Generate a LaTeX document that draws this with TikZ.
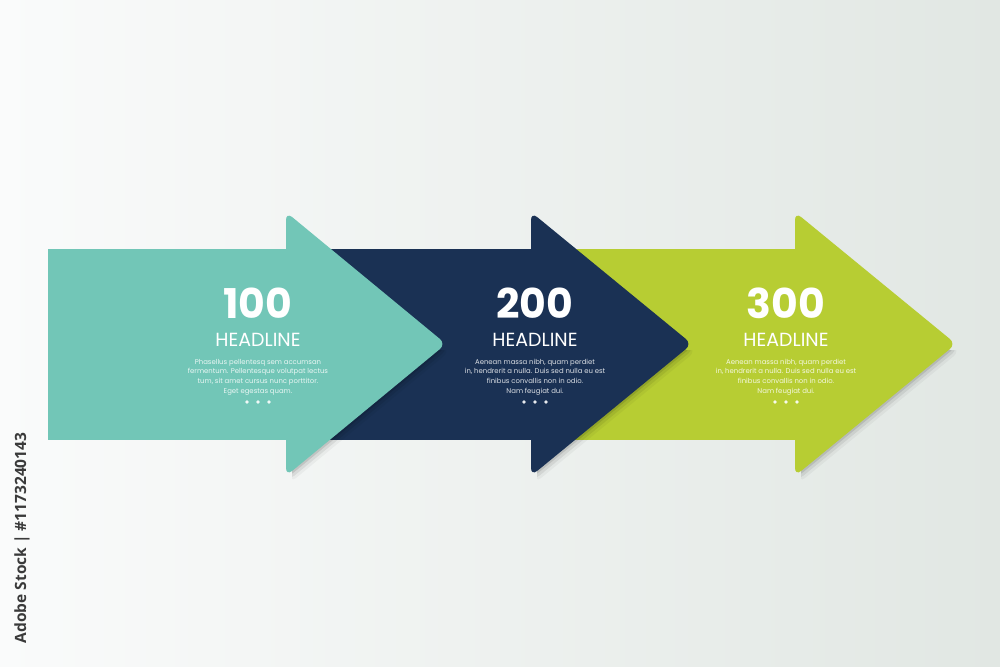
\documentclass[tikz,border=0pt]{standalone}
\usepackage{fontspec}
\setmainfont{Poppins}
\newfontfamily\wmfont{Open Sans}
\definecolor{tealc}{HTML}{72C6B7}
\definecolor{navyc}{HTML}{1A3154}
\definecolor{limec}{HTML}{B7CD33}
\definecolor{bgl}{HTML}{FAFBFB}
\definecolor{bgr}{HTML}{E1E7E3}
\definecolor{wmc}{HTML}{3A3A3A}
\tikzset{
  numtxt/.style={text=white,font=\fontsize{41}{43}\selectfont\bfseries,inner sep=0pt},
  headtxt/.style={text=white,font=\fontsize{19}{21}\selectfont,inner sep=0pt},
  bodytxt/.style={text=white,text opacity=0.85,font=\fontsize{6.9}{9.7}\selectfont,align=center,inner sep=0pt},
  dotc/.style={fill=white,opacity=0.9},
}
\newcommand\bigarrow[4]{%
  % #1 colour, #2 body left, #3 head base, #4 tip
  \begin{scope}
    \clip (#3+6,350) rectangle (#4+20,500);
    \fill[black,opacity=0.04,rounded corners=8pt,shift={(4,7)}] (#3,212) -- (#4,344) -- (#3,476) -- cycle;
    \fill[black,opacity=0.07,rounded corners=8pt,shift={(2.5,4.5)}] (#3,212) -- (#4,344) -- (#3,476) -- cycle;
    \fill[black,opacity=0.10,rounded corners=8pt,shift={(1,2)}] (#3,212) -- (#4,344) -- (#3,476) -- cycle;
  \end{scope}
  \fill[#1] (#2,249) rectangle (#3+6,440);
  \fill[#1,rounded corners=8pt] (#3,212) -- (#4,344) -- (#3,476) -- cycle;
}
\newcommand\threedots[1]{%
  \fill[dotc] (#1-11,402) circle (1.8);
  \fill[dotc] (#1,402) circle (1.8);
  \fill[dotc] (#1+11,402) circle (1.8);
}
\begin{document}
\begin{tikzpicture}[x=1pt,y=-1pt]
\useasboundingbox (0,0) rectangle (1000,666);
\shade[left color=bgl,right color=bgr] (0,0) rectangle (1000,666);

% arrows, back to front
\bigarrow{limec}{560}{795}{956}
\bigarrow{navyc}{300}{531}{692}
\bigarrow{tealc}{48}{286}{446}

% texts
\node[numtxt]  (n1) at (258,303) {100};
\node[headtxt] (h1) at (258,340) {HEADLINE};
\node[bodytxt] (b1) at (258,377) {Phasellus pellentesq sem accumsan\\fermentum. Pellentesque volutpat lectus\\tum, sit amet cursus nunc porttitor.\\Eget egestas quam.};
\threedots{258}

\node[numtxt]  (n2) at (535,303) {200};
\node[headtxt] (h2) at (535,340) {HEADLINE};
\node[bodytxt] (b2) at (535,377) {Aenean massa nibh, quam perdiet\\in, hendrerit a nulla. Duis sed nulla eu est\\finibus convallis non in odio.\\Nam feugiat dui.};
\threedots{535}

\node[numtxt]  (n3) at (786,303) {300};
\node[headtxt] (h3) at (786,340) {HEADLINE};
\node[bodytxt] (b3) at (786,377) {Aenean massa nibh, quam perdiet\\in, hendrerit a nulla. Duis sed nulla eu est\\finibus convallis non in odio.\\Nam feugiat dui.};
\threedots{786}

% vertical stock label
\node[rotate=90,text=wmc,font=\wmfont\fontsize{15.5}{17}\selectfont\bfseries,inner sep=0pt] (wm) at (22,538) {Adobe Stock | \#1173240143};
\end{tikzpicture}
\end{document}
